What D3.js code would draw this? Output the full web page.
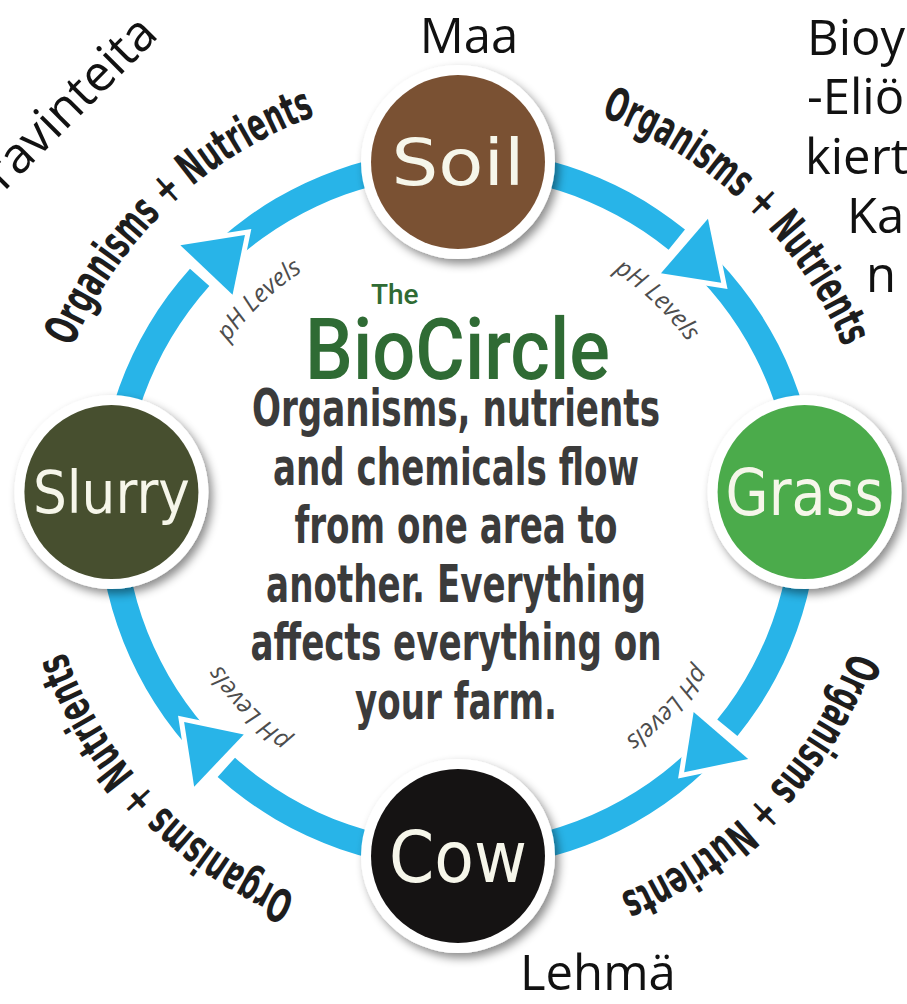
<!DOCTYPE html>
<html>
<head>
<meta charset="utf-8">
<script src="https://cdn.jsdelivr.net/npm/d3@7"></script>
<style>
  body { margin: 0; background: #fff; }
  svg { display: block; }
</style>
</head>
<body>
<div id="container"></div>
<script>
let w = 907;
let h = 1004;

// the cycle, clockwise from the top
let nodeNames = ["Soil", "Grass", "Cow", "Slurry"];
let nodeColors = ["#7a5133", "#4bab4b", "#151313", "#474f2f"];

// one flow between each node and the next
let flowLabels = ["Organisms + Nutrients", "Organisms + Nutrients", "Organisms + Nutrients", "Organisms + Nutrients"];
let innerLabels = ["pH Levels", "pH Levels", "pH Levels", "pH Levels"];

let titleSmall = "The";
let title = "BioCircle";
let bodyLines = [
  "Organisms, nutrients",
  "and chemicals flow",
  "from one area to",
  "another. Everything",
  "affects everything on",
  "your farm."
];

// finnish notes written over the picture
let topNote = "Maa";
let bottomNote = "Lehmä";
let cornerNote = "ravinteita";
let sideNoteLines = ["Bioy", "-Eliö", "kiert", "Ka", "n"];

//layout
let cx = 458, cy = 509, R = 347;
let ringW = 26;
let lift = 2.8;            //grass and slurry sit a bit higher than the middle
let nodeR = 87, rimR = 97;
let headHalf = 36, headLen = 52, gap = 10;
let rad = Math.PI / 180;

// label sizes per node: [font size, width]
let labelStyle = { Soil: [64, 133], Grass: [64, 158], Cow: [72, 138], Slurry: [58, 157] };
let sideNoteX = [807, 807, 805, 847, 866];

let viz = d3.select("#container")
  .append("svg")
    .attr("width", w)
    .attr("height", h)
    .style("background-color", "white")
;

let defs = viz.append("defs");
defs.append("filter")
    .attr("id", "shadow")
    .attr("x", "-30%").attr("y", "-30%")
    .attr("width", "160%").attr("height", "160%")
  .append("feDropShadow")
    .attr("dx", 4)
    .attr("dy", 5)
    .attr("stdDeviation", 5)
    .attr("flood-color", "#000")
    .attr("flood-opacity", 0.45)
;

let angleScale = d3.scaleLinear().domain([0, nodeNames.length]).range([-90, 270]);

function nodeAngle(i){
  let a = angleScale(i);
  return a - lift * Math.cos(a * rad);
}

function midAngle(i){
  let a1 = nodeAngle(i);
  let a2 = nodeAngle((i + 1) % nodeNames.length);
  if (a2 < a1) { a2 += 360; }
  return (a1 + a2) / 2;
}

function point(r, deg){
  return [cx + r * Math.cos(deg * rad), cy + r * Math.sin(deg * rad)];
}

function arcPath(r, a1, a2){
  let p1 = point(r, a1);
  let p2 = point(r, a2);
  return "M " + p1[0] + " " + p1[1] + " A " + r + " " + r + " 0 0 1 " + p2[0] + " " + p2[1];
}

let n = nodeNames.length;
let flows = d3.range(n).map(function(i){
  let mid = midAngle(i);
  return {
    i: i,
    mid: mid,
    base: mid - (headLen / 3) / R / rad,
    label: flowLabels[i],
    inner: innerLabels[i]
  };
});

// ring pieces, each from one arrow base to just before the next
let ringArc = d3.arc()
  .innerRadius(R - ringW / 2)
  .outerRadius(R + ringW / 2)
;

let ring = viz.append("g")
    .attr("transform", "translate(" + cx + "," + cy + ")")
;

ring.selectAll(".ringPiece").data(flows).enter()
  .append("path")
    .attr("class", "ringPiece")
    .attr("d", function(d, i){
      let prev = flows[(i + n - 1) % n].base;
      if (prev > d.base) { prev -= 360; }
      let end = d.base - gap / R / rad;
      return ringArc({ startAngle: (prev + 90) * rad, endAngle: (end + 90) * rad });
    })
    .style("fill", "#28b4e8")
;

// arrow heads
viz.selectAll(".head").data(flows).enter()
  .append("path")
    .attr("class", "head")
    .attr("d", function(d){
      let p1 = point(R + headHalf, d.base);
      let p2 = point(R - headHalf, d.base);
      let tip = point(R, d.base + headLen / R / rad);
      return "M" + p1 + "L" + tip + "L" + p2 + "Z";
    })
    .style("fill", "#28b4e8")
    .style("stroke", "white")
    .style("stroke-width", 10)
    .style("stroke-linejoin", "miter")
    .style("paint-order", "stroke")
;

// curved labels
defs.selectAll(".outerPath").data(flows).enter()
  .append("path")
    .attr("class", "outerPath")
    .attr("id", function(d){ return "outer" + d.i; })
    .attr("d", function(d){ return arcPath(418, d.mid - 35, d.mid + 35); })
;
defs.selectAll(".innerPath").data(flows).enter()
  .append("path")
    .attr("class", "innerPath")
    .attr("id", function(d){ return "inner" + d.i; })
    .attr("d", function(d){ return arcPath(284, d.mid - 35, d.mid + 35); })
;

viz.selectAll(".flowLabel").data(flows).enter()
  .append("text")
    .attr("class", "flowLabel")
    .style("font-family", "'Liberation Sans Narrow', 'DejaVu Sans Condensed', sans-serif")
    .style("font-weight", "bold")
    .style("font-size", "46px")
    .style("fill", "#1d1d1d")
  .append("textPath")
    .attr("href", function(d){ return "#outer" + d.i; })
    .attr("startOffset", "50%")
    .attr("text-anchor", "middle")
    .attr("textLength", 345)
    .attr("lengthAdjust", "spacingAndGlyphs")
    .text(function(d){ return d.label; })
;

viz.selectAll(".innerLabel").data(flows).enter()
  .append("text")
    .attr("class", "innerLabel")
    .style("font-family", "'Open Sans', sans-serif")
    .style("font-size", "25px")
    .style("font-style", "italic")
    .style("fill", "#4d4d4d")
  .append("textPath")
    .attr("href", function(d){ return "#inner" + d.i; })
    .attr("startOffset", "50%")
    .attr("text-anchor", "middle")
    .text(function(d){ return d.inner; })
;

// nodes
let nodes = viz.selectAll(".node").data(nodeNames).enter()
  .append("g")
    .attr("class", "node")
    .attr("transform", function(d, i){
      let p = point(R, nodeAngle(i));
      return "translate(" + p[0] + "," + p[1] + ")";
    })
;

nodes.append("circle")
    .attr("r", rimR)
    .style("fill", "white")
    .attr("filter", "url(#shadow)")
;

nodes.append("circle")
    .attr("r", nodeR)
    .style("fill", function(d, i){ return nodeColors[i]; })
;

nodes.append("text")
    .text(function(d){ return d; })
    .attr("text-anchor", "middle")
    .attr("dy", "0.36em")
    .attr("textLength", function(d){ return labelStyle[d][1]; })
    .attr("lengthAdjust", "spacingAndGlyphs")
    .style("font-family", "'DejaVu Sans', sans-serif")
    .style("font-size", function(d){ return labelStyle[d][0] + "px"; })
    .style("fill", "#f6f6ea")
;

// title in the middle
viz.append("text")
    .text(titleSmall)
    .attr("x", 371)
    .attr("y", 304)
    .style("font-family", "Roboto, sans-serif")
    .style("font-weight", 500)
    .style("font-size", "28px")
    .style("fill", "#2f6b34")
;

viz.append("text")
    .text(title)
    .attr("x", 305)
    .attr("y", 379)
    .attr("textLength", 305)
    .attr("lengthAdjust", "spacingAndGlyphs")
    .style("font-family", "Roboto, sans-serif")
    .style("font-weight", 500)
    .style("font-size", "86px")
    .style("fill", "#2f6b34")
;

let body = viz.selectAll(".bodyLine").data(bodyLines).enter()
  .append("text")
    .attr("class", "bodyLine")
    .text(function(d){ return d; })
    .attr("x", 456)
    .attr("y", function(d, i){ return 426 + i * 58.6; })
    .attr("text-anchor", "middle")
    .style("font-family", "'Liberation Sans Narrow', 'DejaVu Sans Condensed', sans-serif")
    .style("font-weight", "bold")
    .style("font-size", "51px")
    .style("fill", "#3b3b3b")
;

// squeeze the lines so the first one is as wide as in the picture
let firstW = body.node().getComputedTextLength();
let k = 408 / firstW;
body.each(function(){
  let t = d3.select(this);
  t.attr("textLength", this.getComputedTextLength() * k)
   .attr("lengthAdjust", "spacingAndGlyphs");
});

// finnish notes
let noteFont = "'Open Sans', sans-serif";

viz.append("text")
    .text(topNote)
    .attr("x", 469)
    .attr("y", 53)
    .attr("text-anchor", "middle")
    .style("font-family", noteFont)
    .style("font-size", "49px")
    .style("fill", "#111")
;

viz.append("text")
    .text(bottomNote)
    .attr("x", 520)
    .attr("y", 990)
    .style("font-family", noteFont)
    .style("font-size", "49px")
    .style("fill", "#111")
;

viz.append("text")
    .text(cornerNote)
    .attr("text-anchor", "end")
    .attr("transform", "translate(160,36) rotate(-45)")
    .style("font-family", noteFont)
    .style("font-size", "50px")
    .style("fill", "#111")
;

viz.selectAll(".sideNote").data(sideNoteLines).enter()
  .append("text")
    .attr("class", "sideNote")
    .text(function(d){ return d; })
    .attr("x", function(d, i){ return sideNoteX[i]; })
    .attr("y", function(d, i){ return 55 + i * 59.3; })
    .style("font-family", noteFont)
    .style("font-size", "49px")
    .style("fill", "#111")
;
</script>
</body>
</html>
